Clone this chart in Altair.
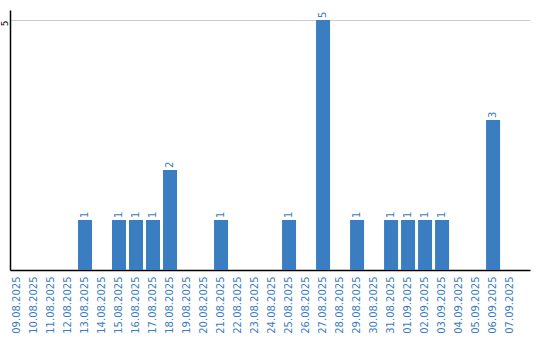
import altair as alt
import pandas as pd

dates = ["09.08.2025", "10.08.2025", "11.08.2025", "12.08.2025", "13.08.2025",
         "14.08.2025", "15.08.2025", "16.08.2025", "17.08.2025", "18.08.2025",
         "19.08.2025", "20.08.2025", "21.08.2025", "22.08.2025", "23.08.2025",
         "24.08.2025", "25.08.2025", "26.08.2025", "27.08.2025", "28.08.2025",
         "29.08.2025", "30.08.2025", "31.08.2025", "01.09.2025", "02.09.2025",
         "03.09.2025", "04.09.2025", "05.09.2025", "06.09.2025", "07.09.2025"]
counts = [0, 0, 0, 0, 1, 0, 1, 1, 1, 2,
          0, 0, 1, 0, 0, 0, 1, 0, 5, 0,
          1, 0, 1, 1, 1, 1, 0, 0, 3, 0]

df = pd.DataFrame({"date": dates, "count": counts})
df["label"] = [str(c) if c > 0 else "" for c in counts]

blue = "#3a7dc1"
font = "DejaVu Sans"

x = alt.X("date:N", sort=dates, title=None,
          scale=alt.Scale(paddingInner=0.176, paddingOuter=0.38, align=0),
          axis=alt.Axis(labelAngle=270, labelAlign="right", labelBaseline="middle",
                        labelColor=blue, labelFont=font, labelFontSize=10,
                        labelPadding=6, ticks=False, domainColor="#000000",
                        domainWidth=1.5, labelOverlap=False, grid=False))
y = alt.Y("count:Q", title=None,
          scale=alt.Scale(domain=[0, 5.2], nice=False),
          axis=alt.Axis(values=[5], labelAngle=270, labelAlign="right",
                        labelBaseline="alphabetic", labelFont=font, labelFontSize=9,
                        labelColor="#000000", labelPadding=3, ticks=False,
                        domainColor="#000000", domainWidth=1.5,
                        gridColor="#cccccc", gridWidth=1))

bars = alt.Chart(df).mark_bar(color=blue).encode(x=x, y=y)
text = alt.Chart(df).mark_text(angle=270, align="left", baseline="middle",
                               dx=2, color=blue, font=font, fontSize=10).encode(
    x=alt.X("date:N", sort=dates), y="count:Q", text="label:N")

chart = (bars + text).properties(
    width=520, height=260,
    autosize=alt.AutoSizeParams(type="none"),
    padding={"left": 10, "top": 10, "right": 10, "bottom": 70},
).configure_view(stroke=None)

chart.save("out.html", embed_options={"renderer": "svg", "actions": False})
